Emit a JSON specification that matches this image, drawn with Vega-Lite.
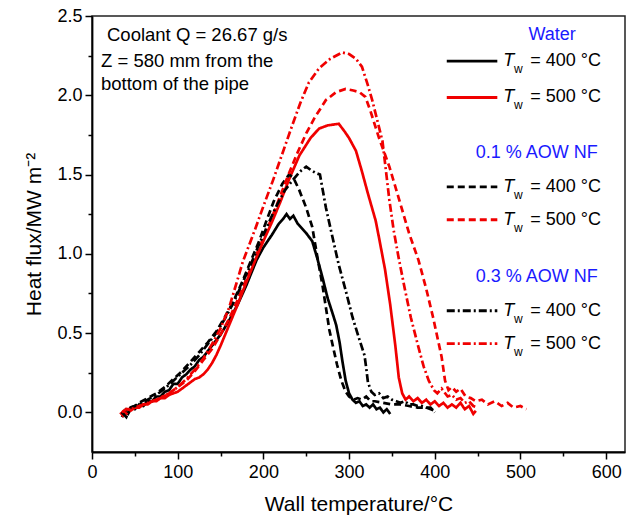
{
  "$schema": "https://vega.github.io/schema/vega-lite/v6.json",
  "width": 533,
  "height": 436,
  "autosize": "none",
  "padding": {"left": 92, "top": 16, "right": 8, "bottom": 65},
  "background": "white",
  "config": {
    "font": "Liberation Sans",
    "view": {"stroke": "#222", "strokeWidth": 1.5},
    "axis": {"grid": false, "domainColor": "#000", "domainWidth": 1.8, "tickColor": "#000", "tickWidth": 1.5, "labelColor": "#000", "titleColor": "#000", "labelFontSize": 18, "titleFontSize": 21, "titleFontWeight": "normal", "labelFlush": false, "labelOverlap": false}
  },
  "datasets": {
    "curves": [
      {"s":"w400","t":35,"q":-0.03},{"s":"w400","t":38,"q":0.01},{"s":"w400","t":42,"q":-0.01},{"s":"w400","t":46,"q":0.03},{"s":"w400","t":50,"q":0.02},{"s":"w400","t":55,"q":0.05},{"s":"w400","t":60,"q":0.04},{"s":"w400","t":65,"q":0.07},{"s":"w400","t":70,"q":0.07},{"s":"w400","t":75,"q":0.1},{"s":"w400","t":80,"q":0.1},{"s":"w400","t":85,"q":0.13},{"s":"w400","t":90,"q":0.14},{"s":"w400","t":95,"q":0.18},{"s":"w400","t":100,"q":0.18},{"s":"w400","t":105,"q":0.22},{"s":"w400","t":110,"q":0.24},{"s":"w400","t":115,"q":0.27},{"s":"w400","t":120,"q":0.29},{"s":"w400","t":125,"q":0.33},{"s":"w400","t":130,"q":0.35},{"s":"w400","t":140,"q":0.42},{"s":"w400","t":150,"q":0.49},{"s":"w400","t":160,"q":0.58},{"s":"w400","t":170,"q":0.68},{"s":"w400","t":180,"q":0.8},{"s":"w400","t":192,"q":0.96},{"s":"w400","t":200,"q":1.04},{"s":"w400","t":210,"q":1.12},{"s":"w400","t":218,"q":1.19},{"s":"w400","t":223,"q":1.22},{"s":"w400","t":227,"q":1.25},{"s":"w400","t":231,"q":1.22},{"s":"w400","t":235,"q":1.24},{"s":"w400","t":240,"q":1.19},{"s":"w400","t":245,"q":1.16},{"s":"w400","t":250,"q":1.13},{"s":"w400","t":257,"q":1.08},{"s":"w400","t":263,"q":0.97},{"s":"w400","t":269,"q":0.85},{"s":"w400","t":275,"q":0.72},{"s":"w400","t":281,"q":0.62},{"s":"w400","t":285,"q":0.55},{"s":"w400","t":289,"q":0.44},{"s":"w400","t":292,"q":0.33},{"s":"w400","t":296,"q":0.2},{"s":"w400","t":300,"q":0.12},{"s":"w400","t":304,"q":0.08},{"s":"w400","t":308,"q":0.06},{"s":"w400","t":312,"q":0.07},{"s":"w400","t":316,"q":0.04},{"s":"w400","t":320,"q":0.05},{"s":"w400","t":324,"q":0.03},{"s":"w400","t":328,"q":0.05},{"s":"w400","t":332,"q":0.02},{"s":"w400","t":336,"q":0.03},{"s":"w400","t":340,"q":0.0},{"s":"w400","t":344,"q":0.02},{"s":"w400","t":348,"q":-0.01},

      {"s":"w500","t":33,"q":0.0},{"s":"w500","t":36,"q":-0.02},{"s":"w500","t":40,"q":0.02},{"s":"w500","t":45,"q":0.01},{"s":"w500","t":50,"q":0.03},{"s":"w500","t":55,"q":0.03},{"s":"w500","t":60,"q":0.05},{"s":"w500","t":65,"q":0.05},{"s":"w500","t":70,"q":0.07},{"s":"w500","t":75,"q":0.07},{"s":"w500","t":80,"q":0.09},{"s":"w500","t":85,"q":0.09},{"s":"w500","t":90,"q":0.11},{"s":"w500","t":95,"q":0.12},{"s":"w500","t":100,"q":0.13},{"s":"w500","t":105,"q":0.15},{"s":"w500","t":110,"q":0.17},{"s":"w500","t":115,"q":0.19},{"s":"w500","t":120,"q":0.21},{"s":"w500","t":125,"q":0.22},{"s":"w500","t":130,"q":0.24},{"s":"w500","t":135,"q":0.27},{"s":"w500","t":140,"q":0.31},{"s":"w500","t":145,"q":0.36},{"s":"w500","t":150,"q":0.42},{"s":"w500","t":160,"q":0.55},{"s":"w500","t":170,"q":0.68},{"s":"w500","t":180,"q":0.82},{"s":"w500","t":192,"q":0.98},{"s":"w500","t":200,"q":1.08},{"s":"w500","t":210,"q":1.2},{"s":"w500","t":220,"q":1.33},{"s":"w500","t":230,"q":1.47},{"s":"w500","t":242,"q":1.62},{"s":"w500","t":255,"q":1.73},{"s":"w500","t":265,"q":1.79},{"s":"w500","t":275,"q":1.81},{"s":"w500","t":288,"q":1.82},{"s":"w500","t":295,"q":1.77},{"s":"w500","t":300,"q":1.73},{"s":"w500","t":308,"q":1.65},{"s":"w500","t":315,"q":1.52},{"s":"w500","t":322,"q":1.38},{"s":"w500","t":331,"q":1.21},{"s":"w500","t":335,"q":1.1},{"s":"w500","t":342,"q":0.9},{"s":"w500","t":348,"q":0.68},{"s":"w500","t":354,"q":0.42},{"s":"w500","t":358,"q":0.22},{"s":"w500","t":362,"q":0.12},{"s":"w500","t":366,"q":0.08},{"s":"w500","t":370,"q":0.1},{"s":"w500","t":375,"q":0.07},{"s":"w500","t":380,"q":0.09},{"s":"w500","t":385,"q":0.06},{"s":"w500","t":390,"q":0.08},{"s":"w500","t":395,"q":0.05},{"s":"w500","t":400,"q":0.07},{"s":"w500","t":405,"q":0.04},{"s":"w500","t":410,"q":0.06},{"s":"w500","t":415,"q":0.03},{"s":"w500","t":420,"q":0.05},{"s":"w500","t":425,"q":0.03},{"s":"w500","t":430,"q":0.06},{"s":"w500","t":435,"q":0.02},{"s":"w500","t":440,"q":0.04},{"s":"w500","t":445,"q":-0.01},{"s":"w500","t":448,"q":0.01},

      {"s":"a1_400","t":35,"q":-0.01},{"s":"a1_400","t":40,"q":0.02},{"s":"a1_400","t":45,"q":0.03},{"s":"a1_400","t":50,"q":0.04},{"s":"a1_400","t":55,"q":0.06},{"s":"a1_400","t":65,"q":0.09},{"s":"a1_400","t":75,"q":0.12},{"s":"a1_400","t":85,"q":0.16},{"s":"a1_400","t":95,"q":0.21},{"s":"a1_400","t":105,"q":0.26},{"s":"a1_400","t":115,"q":0.32},{"s":"a1_400","t":125,"q":0.38},{"s":"a1_400","t":135,"q":0.44},{"s":"a1_400","t":145,"q":0.51},{"s":"a1_400","t":155,"q":0.6},{"s":"a1_400","t":165,"q":0.7},{"s":"a1_400","t":175,"q":0.82},{"s":"a1_400","t":185,"q":0.95},{"s":"a1_400","t":195,"q":1.08},{"s":"a1_400","t":203,"q":1.2},{"s":"a1_400","t":212,"q":1.33},{"s":"a1_400","t":222,"q":1.44},{"s":"a1_400","t":230,"q":1.5},{"s":"a1_400","t":235,"q":1.48},{"s":"a1_400","t":242,"q":1.4},{"s":"a1_400","t":250,"q":1.29},{"s":"a1_400","t":257,"q":1.17},{"s":"a1_400","t":263,"q":0.98},{"s":"a1_400","t":269,"q":0.8},{"s":"a1_400","t":273,"q":0.66},{"s":"a1_400","t":277,"q":0.52},{"s":"a1_400","t":281,"q":0.42},{"s":"a1_400","t":286,"q":0.3},{"s":"a1_400","t":291,"q":0.2},{"s":"a1_400","t":296,"q":0.13},{"s":"a1_400","t":300,"q":0.1},{"s":"a1_400","t":305,"q":0.08},{"s":"a1_400","t":310,"q":0.09},{"s":"a1_400","t":315,"q":0.08},{"s":"a1_400","t":320,"q":0.1},{"s":"a1_400","t":325,"q":0.07},{"s":"a1_400","t":330,"q":0.07},{"s":"a1_400","t":340,"q":0.06},{"s":"a1_400","t":350,"q":0.05},{"s":"a1_400","t":360,"q":0.05},{"s":"a1_400","t":370,"q":0.04},{"s":"a1_400","t":380,"q":0.03},{"s":"a1_400","t":390,"q":0.03},{"s":"a1_400","t":400,"q":0.01},

      {"s":"a1_500","t":35,"q":0.01},{"s":"a1_500","t":40,"q":-0.01},{"s":"a1_500","t":45,"q":0.03},{"s":"a1_500","t":50,"q":0.03},{"s":"a1_500","t":60,"q":0.05},{"s":"a1_500","t":70,"q":0.07},{"s":"a1_500","t":80,"q":0.09},{"s":"a1_500","t":90,"q":0.12},{"s":"a1_500","t":100,"q":0.16},{"s":"a1_500","t":110,"q":0.2},{"s":"a1_500","t":120,"q":0.26},{"s":"a1_500","t":130,"q":0.33},{"s":"a1_500","t":140,"q":0.4},{"s":"a1_500","t":150,"q":0.49},{"s":"a1_500","t":160,"q":0.59},{"s":"a1_500","t":170,"q":0.71},{"s":"a1_500","t":180,"q":0.84},{"s":"a1_500","t":190,"q":0.97},{"s":"a1_500","t":200,"q":1.1},{"s":"a1_500","t":210,"q":1.23},{"s":"a1_500","t":220,"q":1.37},{"s":"a1_500","t":230,"q":1.51},{"s":"a1_500","t":240,"q":1.64},{"s":"a1_500","t":250,"q":1.76},{"s":"a1_500","t":260,"q":1.86},{"s":"a1_500","t":273,"q":1.97},{"s":"a1_500","t":285,"q":2.02},{"s":"a1_500","t":296,"q":2.04},{"s":"a1_500","t":305,"q":2.03},{"s":"a1_500","t":312,"q":2.02},{"s":"a1_500","t":319,"q":1.99},{"s":"a1_500","t":325,"q":1.9},{"s":"a1_500","t":335,"q":1.73},{"s":"a1_500","t":347,"q":1.55},{"s":"a1_500","t":358,"q":1.35},{"s":"a1_500","t":370,"q":1.13},{"s":"a1_500","t":381,"q":0.96},{"s":"a1_500","t":390,"q":0.78},{"s":"a1_500","t":398,"q":0.6},{"s":"a1_500","t":404,"q":0.45},{"s":"a1_500","t":408,"q":0.35},{"s":"a1_500","t":412,"q":0.2},{"s":"a1_500","t":416,"q":0.14},{"s":"a1_500","t":420,"q":0.16},{"s":"a1_500","t":425,"q":0.13},{"s":"a1_500","t":430,"q":0.15},{"s":"a1_500","t":436,"q":0.1},{"s":"a1_500","t":442,"q":0.09},{"s":"a1_500","t":448,"q":0.07},{"s":"a1_500","t":455,"q":0.08},{"s":"a1_500","t":462,"q":0.05},{"s":"a1_500","t":470,"q":0.07},{"s":"a1_500","t":478,"q":0.04},{"s":"a1_500","t":485,"q":0.06},{"s":"a1_500","t":492,"q":0.03},{"s":"a1_500","t":500,"q":0.04},{"s":"a1_500","t":507,"q":0.02},

      {"s":"a3_400","t":35,"q":0.0},{"s":"a3_400","t":40,"q":-0.03},{"s":"a3_400","t":45,"q":0.03},{"s":"a3_400","t":55,"q":0.05},{"s":"a3_400","t":65,"q":0.08},{"s":"a3_400","t":75,"q":0.11},{"s":"a3_400","t":85,"q":0.15},{"s":"a3_400","t":95,"q":0.2},{"s":"a3_400","t":105,"q":0.25},{"s":"a3_400","t":115,"q":0.3},{"s":"a3_400","t":125,"q":0.36},{"s":"a3_400","t":135,"q":0.43},{"s":"a3_400","t":145,"q":0.5},{"s":"a3_400","t":155,"q":0.59},{"s":"a3_400","t":165,"q":0.69},{"s":"a3_400","t":175,"q":0.81},{"s":"a3_400","t":185,"q":0.93},{"s":"a3_400","t":195,"q":1.06},{"s":"a3_400","t":205,"q":1.18},{"s":"a3_400","t":215,"q":1.3},{"s":"a3_400","t":225,"q":1.4},{"s":"a3_400","t":235,"q":1.47},{"s":"a3_400","t":243,"q":1.52},{"s":"a3_400","t":250,"q":1.55},{"s":"a3_400","t":255,"q":1.53},{"s":"a3_400","t":261,"q":1.51},{"s":"a3_400","t":266,"q":1.5},{"s":"a3_400","t":270,"q":1.38},{"s":"a3_400","t":273,"q":1.29},{"s":"a3_400","t":280,"q":1.12},{"s":"a3_400","t":288,"q":0.93},{"s":"a3_400","t":296,"q":0.77},{"s":"a3_400","t":304,"q":0.6},{"s":"a3_400","t":312,"q":0.46},{"s":"a3_400","t":318,"q":0.36},{"s":"a3_400","t":320,"q":0.28},{"s":"a3_400","t":322,"q":0.19},{"s":"a3_400","t":326,"q":0.13},{"s":"a3_400","t":330,"q":0.11},{"s":"a3_400","t":335,"q":0.12},{"s":"a3_400","t":340,"q":0.09},{"s":"a3_400","t":345,"q":0.1},{"s":"a3_400","t":350,"q":0.08},{"s":"a3_400","t":355,"q":0.07},{"s":"a3_400","t":360,"q":0.06},{"s":"a3_400","t":365,"q":0.07},{"s":"a3_400","t":370,"q":0.05},{"s":"a3_400","t":375,"q":0.05},{"s":"a3_400","t":380,"q":0.04},{"s":"a3_400","t":385,"q":0.04},{"s":"a3_400","t":390,"q":0.03},{"s":"a3_400","t":395,"q":0.03},{"s":"a3_400","t":400,"q":0.0},

      {"s":"a3_500","t":35,"q":0.0},{"s":"a3_500","t":40,"q":0.02},{"s":"a3_500","t":45,"q":0.02},{"s":"a3_500","t":60,"q":0.05},{"s":"a3_500","t":75,"q":0.08},{"s":"a3_500","t":90,"q":0.12},{"s":"a3_500","t":100,"q":0.16},{"s":"a3_500","t":110,"q":0.21},{"s":"a3_500","t":120,"q":0.27},{"s":"a3_500","t":130,"q":0.34},{"s":"a3_500","t":140,"q":0.43},{"s":"a3_500","t":150,"q":0.53},{"s":"a3_500","t":160,"q":0.66},{"s":"a3_500","t":170,"q":0.84},{"s":"a3_500","t":176,"q":0.95},{"s":"a3_500","t":190,"q":1.15},{"s":"a3_500","t":200,"q":1.3},{"s":"a3_500","t":211,"q":1.46},{"s":"a3_500","t":222,"q":1.63},{"s":"a3_500","t":233,"q":1.8},{"s":"a3_500","t":243,"q":1.95},{"s":"a3_500","t":253,"q":2.08},{"s":"a3_500","t":265,"q":2.17},{"s":"a3_500","t":278,"q":2.23},{"s":"a3_500","t":292,"q":2.27},{"s":"a3_500","t":300,"q":2.26},{"s":"a3_500","t":308,"q":2.23},{"s":"a3_500","t":315,"q":2.18},{"s":"a3_500","t":321,"q":2.08},{"s":"a3_500","t":327,"q":1.97},{"s":"a3_500","t":333,"q":1.84},{"s":"a3_500","t":339,"q":1.71},{"s":"a3_500","t":347,"q":1.34},{"s":"a3_500","t":352,"q":1.15},{"s":"a3_500","t":358,"q":0.97},{"s":"a3_500","t":365,"q":0.78},{"s":"a3_500","t":372,"q":0.6},{"s":"a3_500","t":381,"q":0.41},{"s":"a3_500","t":387,"q":0.29},{"s":"a3_500","t":393,"q":0.2},{"s":"a3_500","t":399,"q":0.14},{"s":"a3_500","t":403,"q":0.12},{"s":"a3_500","t":408,"q":0.15},{"s":"a3_500","t":415,"q":0.1},{"s":"a3_500","t":420,"q":0.11},{"s":"a3_500","t":425,"q":0.08},{"s":"a3_500","t":430,"q":0.09},{"s":"a3_500","t":435,"q":0.06},{"s":"a3_500","t":440,"q":0.07},{"s":"a3_500","t":445,"q":0.04},{"s":"a3_500","t":450,"q":0.03}
    ],
    "legendLines": [
      {"s":"w400","t":414,"t2":473,"q":2.216},
      {"s":"w500","t":414,"t2":473,"q":1.986},
      {"s":"a1_400","t":414,"t2":473,"q":1.422},
      {"s":"a1_500","t":414,"t2":473,"q":1.215},
      {"s":"a3_400","t":414,"t2":473,"q":0.641},
      {"s":"a3_500","t":414,"t2":473,"q":0.433}
    ],
    "legendItems": [
      {"temp":"= 400 °C","q":2.216},
      {"temp":"= 500 °C","q":1.986},
      {"temp":"= 400 °C","q":1.422},
      {"temp":"= 500 °C","q":1.215},
      {"temp":"= 400 °C","q":0.641},
      {"temp":"= 500 °C","q":0.433}
    ],
    "headers": [
      {"label":"Water","t":537,"q":2.38},
      {"label":"0.1 % AOW NF","t":519,"q":1.636},
      {"label":"0.3 % AOW NF","t":519,"q":0.855}
    ],
    "notes": [
      {"label":"Coolant Q = 26.67 g/s","t":17.5,"q":2.38},
      {"label":"Z = 580 mm from the","t":10.5,"q":2.216},
      {"label":"bottom of the pipe","t":10.5,"q":2.071}
    ]
  },
  "layer": [
    {
      "data": {"name": "curves"},
      "mark": {"type": "line", "strokeWidth": 2.7, "clip": true},
      "encoding": {
        "x": {"field": "t", "type": "quantitative", "scale": {"domain": [0, 622], "nice": false, "zero": false},
          "axis": {"title": "Wall temperature/°C", "values": [0,50,100,150,200,250,300,350,400,450,500,550,600],
            "labelExpr": "datum.value % 100 === 0 ? datum.label : ''",
            "tickSize": {"condition": {"test": "datum.value % 100 === 0", "value": 7}, "value": 4},
            "labelPadding": 4, "titlePadding": 12}},
        "y": {"field": "q", "type": "quantitative", "scale": {"domain": [-0.25, 2.5], "nice": false, "zero": false},
          "axis": {"title": "Heat flux/MW m⁻²", "values": [0,0.25,0.5,0.75,1,1.25,1.5,1.75,2,2.25,2.5],
            "labelExpr": "round(datum.value*100) % 50 === 0 ? format(datum.value, '.1f') : ''",
            "tickSize": {"condition": {"test": "round(datum.value*100) % 50 === 0", "value": 7}, "value": 4},
            "labelPadding": 3, "titlePadding": 12}},
        "color": {"field": "s", "type": "nominal", "legend": null,
          "scale": {"domain": ["w400","w500","a1_400","a1_500","a3_400","a3_500"], "range": ["#000000","#f00000","#000000","#f00000","#000000","#f00000"]}},
        "strokeDash": {"field": "s", "type": "nominal", "legend": null,
          "scale": {"domain": ["w400","w500","a1_400","a1_500","a3_400","a3_500"], "range": [[1,0],[1,0],[7,4],[7,4],[8,3,2,3],[8,3,2,3]]}},
        "detail": {"field": "s"}
      }
    },
    {
      "data": {"name": "legendLines"},
      "mark": {"type": "rule", "strokeWidth": 2.8},
      "encoding": {
        "x": {"field": "t", "type": "quantitative"},
        "x2": {"field": "t2"},
        "y": {"field": "q", "type": "quantitative"},
        "color": {"field": "s", "type": "nominal", "legend": null},
        "strokeDash": {"field": "s", "type": "nominal", "legend": null}
      }
    },
    {
      "data": {"name": "legendItems"},
      "mark": {"type": "text", "text": "T", "fontStyle": "italic", "fontSize": 18, "align": "left", "baseline": "middle", "color": "#000"},
      "encoding": {
        "x": {"datum": 480, "type": "quantitative"},
        "y": {"field": "q", "type": "quantitative"}
      }
    },
    {
      "data": {"name": "legendItems"},
      "mark": {"type": "text", "text": "w", "fontSize": 12, "align": "left", "baseline": "middle", "dy": 8, "color": "#000"},
      "encoding": {
        "x": {"datum": 492.6, "type": "quantitative"},
        "y": {"field": "q", "type": "quantitative"}
      }
    },
    {
      "data": {"name": "legendItems"},
      "mark": {"type": "text", "fontSize": 18, "align": "left", "baseline": "middle", "color": "#000"},
      "encoding": {
        "x": {"datum": 511.3, "type": "quantitative"},
        "y": {"field": "q", "type": "quantitative"},
        "text": {"field": "temp"}
      }
    },
    {
      "data": {"name": "headers"},
      "mark": {"type": "text", "fontSize": 18, "align": "center", "baseline": "middle", "color": "#1a1aff"},
      "encoding": {
        "x": {"field": "t", "type": "quantitative"},
        "y": {"field": "q", "type": "quantitative"},
        "text": {"field": "label"}
      }
    },
    {
      "data": {"name": "notes"},
      "mark": {"type": "text", "fontSize": 18.5, "align": "left", "baseline": "middle", "color": "#000"},
      "encoding": {
        "x": {"field": "t", "type": "quantitative"},
        "y": {"field": "q", "type": "quantitative"},
        "text": {"field": "label"}
      }
    }
  ]
}
